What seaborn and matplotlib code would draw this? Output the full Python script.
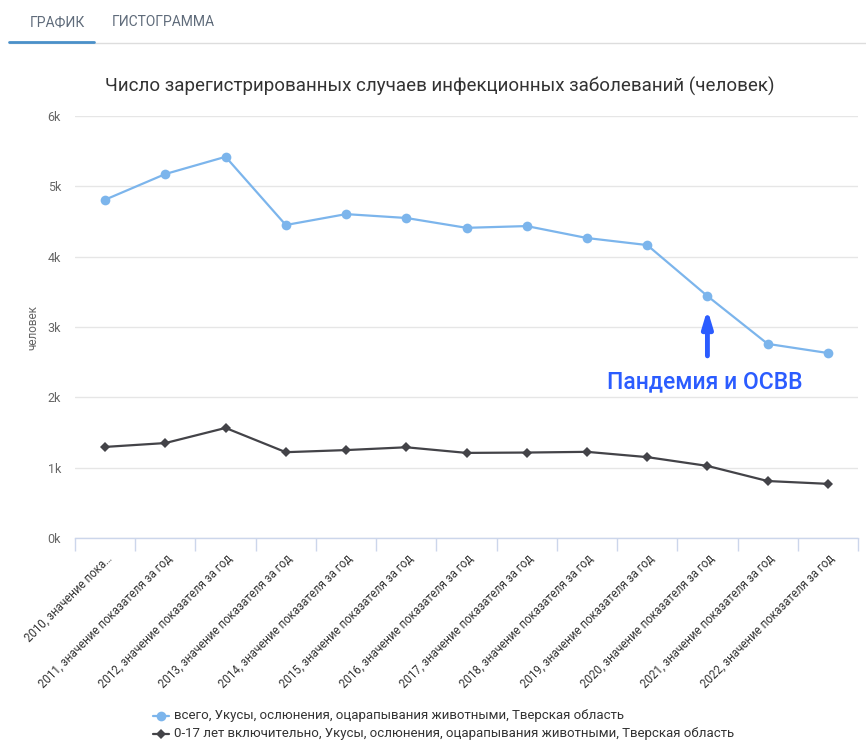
import matplotlib
matplotlib.use("Agg")
import matplotlib.pyplot as plt
import seaborn as sns
import pandas as pd
import numpy as np

#%% data
years = ["2010", "2011", "2012", "2013", "2014", "2015", "2016",
         "2017", "2018", "2019", "2020", "2021", "2022"]
tick_labels = ["2010, значение пока…"] + [f"{y}, значение показателя за год" for y in years[1:]]
total = [4810, 5175, 5420, 4450, 4605, 4550, 4410, 4435, 4265, 4165, 3440, 2760, 2630]
kids = [1295, 1350, 1565, 1220, 1250, 1290, 1210, 1215, 1225, 1150, 1025, 810, 770]
series_names = ["всего, Укусы, ослюнения, оцарапывания животными, Тверская область",
                "0-17 лет включительно, Укусы, ослюнения, оцарапывания животными, Тверская область"]
title = "Число зарегистрированных случаев инфекционных заболеваний (человек)"
note = "Пандемия и ОСВВ"

#%% setup plot
sns.set_style("white")
plt.rcParams['font.family'] = ['Roboto', 'DejaVu Sans']
colors = ['#7cb5ec', '#434348']
note_color = '#2b5cff'

df = pd.DataFrame({
    'pos': list(range(len(years))) * 2,
    'value': total + kids,
    'series': [series_names[0]] * len(years) + [series_names[1]] * len(years),
})

fig = plt.figure(figsize=(8.66, 7.55), dpi=100)
ax = fig.add_axes([75 / 866, 1 - 538 / 755, (858 - 75) / 866, (538 - 116) / 755])

sns.lineplot(data=df, x='pos', y='value', hue='series', style='series',
             markers={series_names[0]: 'o', series_names[1]: 'D'},
             dashes=False, palette=colors, linewidth=1.6, ax=ax, legend=False,
             markeredgewidth=0)
for line, ms in zip(ax.lines, [7, 5]):
    line.set_markersize(ms)

ax.set_xlim(-0.5, len(years) - 0.5)
ax.set_ylim(0, 6000)
ax.set_yticks(np.arange(0, 6001, 1000))
ax.set_yticklabels([f"{int(v / 1000)}k" for v in np.arange(0, 6001, 1000)])
ax.yaxis.grid(True, color='#e6e6e6', lw=1)
ax.tick_params(axis='y', length=0, labelsize=9, labelcolor='#666666', pad=10)
for s in ['top', 'right', 'left']:
    ax.spines[s].set_visible(False)
ax.spines['bottom'].set_color('#ccd6eb')
ax.spines['bottom'].set_linewidth(1)

# category ticks on boundaries, labels at centres
ax.set_xticks(np.arange(-0.5, len(years), 1), minor=False)
ax.set_xticklabels([])
ax.tick_params(axis='x', which='major', bottom=True, length=9, color='#ccd6eb',
               width=1, direction='out')
ax.set_xticks(range(len(years)), minor=True)
ax.set_xticklabels(tick_labels, minor=True, rotation=45, ha='right', va='top',
                   rotation_mode='anchor', fontsize=8.3, color='#333333')
ax.tick_params(axis='x', which='minor', bottom=True, length=0, pad=10)

ax.set_xlabel('')
ax.set_ylabel('человек', fontsize=8.5, color='#666666', labelpad=6)

# annotation
ax.annotate('', xy=(10, 3290), xytext=(10, 2550),
            arrowprops=dict(arrowstyle='-|>,head_width=0.3,head_length=1.0',
                            color=note_color, lw=3.5))
ax.text(9.95, 2220, note, color=note_color, fontsize=16.5, ha='center', va='center',
        fontweight='medium')

# title
fig.text(440 / 866, 1 - 86 / 755, title, ha='center', va='center',
         fontsize=13.5, color='#333333')

# tabs
fig.text(30 / 866, 1 - 22 / 755, 'ГРАФИК', ha='left', va='center', fontsize=10, color='#5f6b7a')
fig.text(112 / 866, 1 - 22 / 755, 'ГИСТОГРАММА', ha='left', va='center', fontsize=10, color='#5f6b7a')
fig.add_artist(plt.Line2D([9 / 866, 1], [1 - 43 / 755] * 2, color='#dddddd', lw=1))
fig.add_artist(plt.Line2D([9 / 866, 94 / 866], [1 - 42 / 755] * 2, color='#4a90c9', lw=2))

# legend
leg_y = [716, 734]
for name, c, m, ms, ly in zip(series_names, colors, ['o', 'D'], [7, 5], leg_y):
    yf = 1 - ly / 755
    fig.add_artist(plt.Line2D([153 / 866, 169 / 866], [yf, yf], color=c, lw=1.6))
    fig.add_artist(plt.Line2D([161 / 866], [yf], color=c, marker=m, markersize=ms,
                              markeredgewidth=0, lw=0))
    fig.text(174 / 866, yf, name, ha='left', va='center', fontsize=9.5, color='#333333')

plt.savefig('out.png', dpi=100)
